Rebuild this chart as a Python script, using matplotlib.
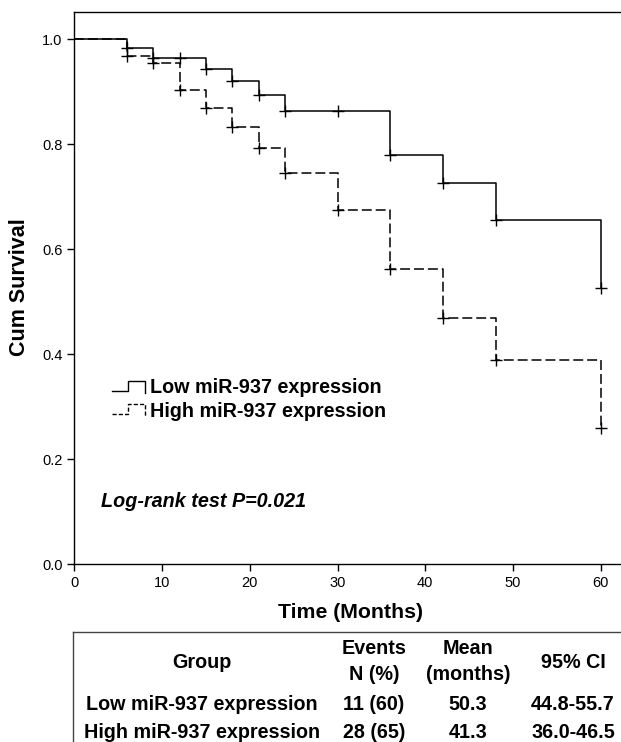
import numpy as np
import matplotlib
matplotlib.use("Agg")
import matplotlib.pyplot as plt

plt.rcParams['font.family'] = ['Liberation Sans', 'DejaVu Sans']

# Kaplan-Meier steps
low_t = [0, 6, 9, 15, 18, 21, 24, 36, 42, 48, 60]
low_s = [1.0, 0.983, 0.965, 0.944, 0.921, 0.894, 0.864, 0.780, 0.727, 0.656, 0.526]
low_cens = [6, 9, 12, 15, 18, 21, 24, 30, 36, 42, 48, 60]

high_t = [0, 6, 9, 12, 15, 18, 21, 24, 30, 36, 42, 48, 60]
high_s = [1.0, 0.968, 0.955, 0.904, 0.869, 0.832, 0.792, 0.746, 0.674, 0.562, 0.468, 0.389, 0.259]
high_cens = [6, 9, 12, 15, 18, 21, 24, 30, 36, 42, 48, 60]

groups = ['Low miR-937 expression', 'High miR-937 expression']
events = ['11 (60)', '28 (65)']
means = ['50.3', '41.3']
cis = ['44.8-55.7', '36.0-46.5']

W, H = 621, 742
fig = plt.figure(figsize=(W / 100, H / 100), dpi=100)
ax = fig.add_axes([74.3 / W, 1 - 564 / H, 1 - 74.3 / W, (564 - 12) / H])


def surv_at(t, times, surv):
    i = np.searchsorted(times, t, side='right') - 1
    return surv[i]


def km(times, surv, cens, ls):
    ax.plot(times, surv, drawstyle='steps-post', color='black', lw=1.1, ls=ls)
    ys = [surv_at(c, times, surv) for c in cens]
    ax.plot(cens, ys, ls='none', marker='+', ms=9, mew=1.0, color='black')


km(low_t, low_s, low_cens, '-')
km(high_t, high_s, high_cens, (0, (6.5, 2.6)))

ax.set_xlim(0, 62.3)
ax.set_ylim(0, 1.052)
ax.set_xticks(range(0, 61, 10))
ax.set_yticks([0.0, 0.2, 0.4, 0.6, 0.8, 1.0])
ax.set_yticklabels(['0.0', '0.2', '0.4', '0.6', '0.8', '1.0'])
ax.tick_params(labelsize=10.5, length=5, width=1, direction='out')
ax.spines['right'].set_visible(False)
for s in ['left', 'bottom', 'top']:
    ax.spines[s].set_linewidth(1.0)

# legend with SPSS style step symbols
leg = [(0.330, 0.349, '-'), (0.285, 0.304, (0, (3, 1.5)))]
for (yb, yt, ls), name in zip(leg, groups):
    ax.plot([4.27, 6.1, 6.1, 8.03, 8.03], [yb, yb, yt, yt, yb - 0.005],
            color='black', lw=1.0, ls=ls, clip_on=False)
    ax.text(8.6, (yb + yt) / 2 - 0.003, name, fontsize=14.2, fontweight='bold',
            va='center', ha='left')

ax.text(3.0, 0.119, 'Log-rank test P=0.021', fontsize=14.2, fontweight='bold',
        style='italic', va='center', ha='left')

fig.text(20 / W, 1 - 287 / H, 'Cum Survival', rotation=90, fontsize=15.5,
         fontweight='bold', ha='center', va='center')
fig.text(351 / W, 1 - 613 / H, 'Time (Months)', fontsize=15.3,
         fontweight='bold', ha='center', va='center')

# summary table
fig.add_artist(plt.Line2D([72.7 / W, 1.0], [1 - 632 / H] * 2, color='#444444', lw=1.0))
fig.add_artist(plt.Line2D([72.7 / W] * 2, [1 - 632 / H, 0.0], color='#444444', lw=1.0))

col_x = [202, 374, 468, 573]
hdr = dict(fontsize=14.2, fontweight='bold', ha='center', va='center')
fig.text(col_x[0] / W, 1 - 662 / H, 'Group', **hdr)
fig.text(col_x[1] / W, 1 - 648 / H, 'Events', **hdr)
fig.text(col_x[1] / W, 1 - 675 / H, 'N (%)', **hdr)
fig.text(col_x[2] / W, 1 - 648 / H, 'Mean', **hdr)
fig.text(col_x[2] / W, 1 - 675 / H, '(months)', **hdr)
fig.text(col_x[3] / W, 1 - 662 / H, '95% CI', **hdr)

for row_y, g, e, m, c in zip([705, 732], groups, events, means, cis):
    for x, val in zip(col_x, [g, e, m, c]):
        fig.text(x / W, 1 - row_y / H, val, **hdr)

fig.savefig('out.png', dpi=100)
